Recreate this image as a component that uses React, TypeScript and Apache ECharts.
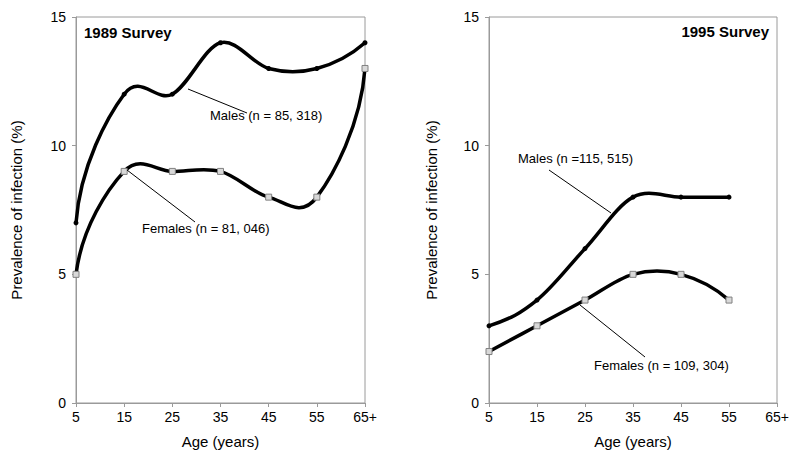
import React, { useEffect, useRef } from 'react';
import * as echarts from 'echarts';

// ---- data ----
const ageCategories = ['5', '15', '25', '35', '45', '55', '65+'];
const males1989 = [7, 12, 12, 14, 13, 13, 14];
const females1989 = [5, 9, 9, 9, 8, 8, 13];
const males1995 = [3, 4, 6, 8, 8, 8];
const females1995 = [2, 3, 4, 5, 5, 4];
const yMin = 0;
const yMax = 15;
const yInterval = 5;

const title1989 = '1989 Survey';
const title1995 = '1995 Survey';
const labelMales1989 = 'Males (n = 85, 318)';
const labelFemales1989 = 'Females (n = 81, 046)';
const labelMales1995 = 'Males (n =115, 515)';
const labelFemales1995 = 'Females (n = 109, 304)';
const yName = 'Prevalence of infection (%)';
const xName = 'Age (years)';

const FONT = '"Liberation Sans", Arial, sans-serif';
const AXIS_GREY = '#9a9a9a';
const LINE_W = 3.5;
const END_ARM = 0.42; // end-segment arm length as a fraction of its chord

type P = number[];
const sub = (p: P, q: P): P => [p[0] - q[0], p[1] - q[1]];
const unit = (v: P): P => {
  const l = Math.hypot(v[0], v[1]) || 1;
  return [v[0] / l, v[1] / l];
};
// reflect direction t across the line with unit direction u
const mirror = (t: P, u: P): P => {
  const d = u[0] * t[0] + u[1] * t[1];
  return [2 * d * u[0] - t[0], 2 * d * u[1] - t[1]];
};

// Bezier control points [cp1, cp2] for segment i of a smoothed line through screen points
function segmentControls(pts: P[], i: number): [P, P] {
  const n = pts.length;
  const p1 = pts[i];
  const p2 = pts[i + 1];
  if (n === 2) return [p1, p2];
  const T = (k: number): P => [(pts[k + 1][0] - pts[k - 1][0]) / 6, (pts[k + 1][1] - pts[k - 1][1]) / 6];
  const chord = sub(p2, p1);
  const L = Math.hypot(chord[0], chord[1]);
  const u = unit(chord);
  let cp1: P;
  let cp2: P;
  if (i === 0) {
    const m = unit(mirror(unit(T(1)), u));
    cp1 = [p1[0] + m[0] * L * END_ARM, p1[1] + m[1] * L * END_ARM];
  } else {
    const t = T(i);
    cp1 = [p1[0] + t[0], p1[1] + t[1]];
  }
  if (i + 1 === n - 1) {
    const m = unit(mirror(unit(T(n - 2)), u));
    cp2 = [p2[0] - m[0] * L * END_ARM, p2[1] - m[1] * L * END_ARM];
  } else {
    const t = T(i + 1);
    cp2 = [p2[0] - t[0], p2[1] - t[1]];
  }
  return [cp1, cp2];
}

export default function App() {
  const ref = useRef<HTMLDivElement>(null);

  useEffect(() => {
    if (!ref.current) return;
    const chart = echarts.init(ref.current, null, { renderer: 'svg' });

    const makeX = (gridIndex: number) => ({
      type: 'category',
      gridIndex,
      data: ageCategories,
      boundaryGap: false,
      name: xName,
      nameLocation: 'middle',
      nameGap: 31,
      nameTextStyle: { fontFamily: FONT, fontSize: 15, color: '#000' },
      axisLine: { show: true, lineStyle: { color: AXIS_GREY, width: 1 } },
      axisTick: { show: true, inside: false, length: 4, alignWithLabel: true, lineStyle: { color: AXIS_GREY } },
      axisLabel: { fontFamily: FONT, fontSize: 14, color: '#000', margin: 7, interval: 0 },
      splitLine: { show: false },
    });
    const makeY = (gridIndex: number, gap: number) => ({
      type: 'value',
      gridIndex,
      min: yMin,
      max: yMax,
      interval: yInterval,
      name: yName,
      nameLocation: 'middle',
      nameGap: gap,
      nameRotate: 90,
      nameTextStyle: { fontFamily: FONT, fontSize: 15, color: '#000' },
      axisLine: { show: true, lineStyle: { color: AXIS_GREY, width: 1 } },
      axisTick: { show: true, inside: false, length: 4, lineStyle: { color: AXIS_GREY } },
      axisLabel: { fontFamily: FONT, fontSize: 14, color: '#000', margin: 10 },
      splitLine: { show: false },
    });

    // smoothed curve drawn segment by segment through the axis coordinates
    const curveSeries = (values: number[], idx: number) => ({
      type: 'custom',
      xAxisIndex: idx,
      yAxisIndex: idx,
      data: values.map((v, i) => [i, v]),
      encode: { x: 0, y: 1 },
      clip: false,
      silent: true,
      z: 2,
      renderItem: (params: any, api: any) => {
        const i = params.dataIndex;
        const n = values.length;
        if (i >= n - 1) return { type: 'group', children: [] };
        const pts: P[] = values.map((v, k) => api.coord([k, v]));
        const [c1, c2] = segmentControls(pts, i);
        return {
          type: 'bezierCurve',
          shape: {
            x1: pts[i][0],
            y1: pts[i][1],
            x2: pts[i + 1][0],
            y2: pts[i + 1][1],
            cpx1: c1[0],
            cpy1: c1[1],
            cpx2: c2[0],
            cpy2: c2[1],
          },
          style: { stroke: '#000', lineWidth: LINE_W, fill: 'none', lineCap: 'round' },
        };
      },
    });

    const maleMarkers = (data: number[], idx: number) => ({
      type: 'line',
      xAxisIndex: idx,
      yAxisIndex: idx,
      data,
      symbol: 'circle',
      symbolSize: 5,
      showSymbol: true,
      lineStyle: { width: 0, opacity: 0 },
      itemStyle: { color: '#000', borderWidth: 0 },
      z: 4,
    });
    const femaleMarkers = (data: number[], idx: number) => ({
      type: 'line',
      xAxisIndex: idx,
      yAxisIndex: idx,
      data,
      symbol: 'rect',
      symbolSize: 6,
      showSymbol: true,
      lineStyle: { width: 0, opacity: 0 },
      itemStyle: { color: '#d8d8d8', borderColor: '#808080', borderWidth: 1 },
      z: 4,
    });

    const txt = (text: string, x: number, y: number, align: string, bold = false, size = 13) => ({
      type: 'text',
      x,
      y,
      z: 10,
      style: {
        text,
        fill: '#000',
        font: `${bold ? 'bold ' : ''}${size}px ${FONT}`,
        textAlign: align,
        textVerticalAlign: 'middle',
        verticalAlign: 'middle',
      },
    });
    const leader = (x1: number, y1: number, x2: number, y2: number) => ({
      type: 'line',
      z: 9,
      shape: { x1, y1, x2, y2 },
      style: { stroke: '#000', lineWidth: 1 },
    });

    chart.setOption({
      animation: false,
      backgroundColor: '#fff',
      textStyle: { fontFamily: FONT },
      grid: [
        { left: 76, right: 435, top: 17, bottom: 60, show: true, borderColor: AXIS_GREY, borderWidth: 1, backgroundColor: 'transparent', containLabel: false },
        { left: 489, right: 23, top: 17, bottom: 60, show: true, borderColor: AXIS_GREY, borderWidth: 1, backgroundColor: 'transparent', containLabel: false },
      ],
      xAxis: [makeX(0), makeX(1)],
      yAxis: [makeY(0, 52), makeY(1, 50)],
      series: [
        curveSeries(males1989, 0),
        curveSeries(females1989, 0),
        curveSeries(males1995, 1),
        curveSeries(females1995, 1),
        maleMarkers(males1989, 0),
        femaleMarkers(females1989, 0),
        maleMarkers(males1995, 1),
        femaleMarkers(females1995, 1),
      ],
      graphic: [
        txt(title1989, 84, 32, 'left', true, 15),
        txt(title1995, 769, 31, 'right', true, 15),
        txt(labelMales1989, 210, 115, 'left'),
        txt(labelFemales1989, 142, 228, 'left'),
        txt(labelMales1995, 518, 158, 'left'),
        txt(labelFemales1995, 594, 365, 'left'),
        leader(188, 89, 247, 113),
        leader(127, 170, 195, 222),
        leader(549, 170, 611, 213),
        leader(580, 305, 645, 357),
      ],
    });

    return () => chart.dispose();
  }, []);

  return (
    <div
      ref={ref}
      style={{ position: 'fixed', left: 0, top: 0, width: 800, height: 463, background: '#fff' }}
    />
  );
}
